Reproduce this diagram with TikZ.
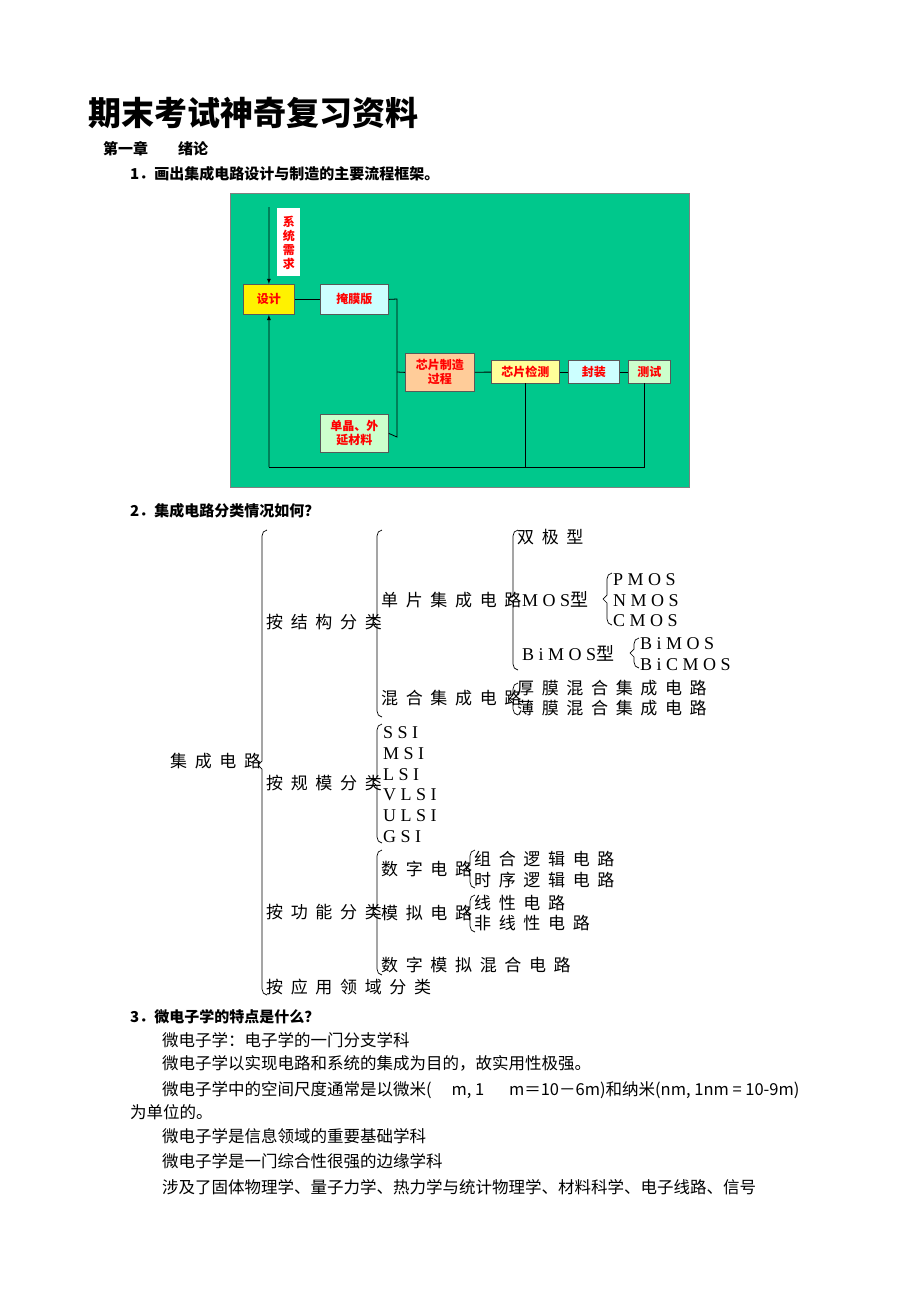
\documentclass[tikz,border=0pt]{standalone}
\usepackage{fontspec}
\setmainfont{Liberation Serif}
\newfontfamily\cjk{Noto Sans CJK SC}
\newfontfamily\tcjk[LetterSpace=45]{Noto Sans CJK SC}
\newfontfamily\tlat[LetterSpace=25]{Liberation Serif}
\definecolor{bg}{HTML}{00C88C}
\definecolor{cyanb}{HTML}{CCFFFF}
\definecolor{peach}{HTML}{FFCC99}
\definecolor{lyel}{HTML}{FFFF99}
\definecolor{lgrn}{HTML}{CCFFCC}
\newcommand\brc[4]{\draw[line width=0.7pt] (#1+5,#2) to[out=180,in=90] (#1,#2+6) -- (#1,#4-4) -- (#1-4,#4) -- (#1,#4+4) -- (#1,#3-6) to[out=-90,in=180] (#1+5,#3);}
\begin{document}
\begin{tikzpicture}[x=1pt,y=-1pt,
  fbox/.style={draw=gray!70!black,line width=0.8pt,font=\cjk\bfseries\fontsize{12}{14}\selectfont,text=red,inner sep=0pt,align=center,anchor=north west},
  tt/.style={anchor=base west,inner sep=0pt,font=\tcjk\fontsize{17}{17}\selectfont},
  tl/.style={anchor=base west,inner sep=0pt,font=\tlat\fontsize{18}{18}\selectfont},
  bt/.style={anchor=base west,inner sep=0pt,font=\cjk\fontsize{16.5}{18}\selectfont},
  hd/.style={anchor=base west,inner sep=0pt,font=\cjk\bfseries\fontsize{15}{18}\selectfont},
  ln/.style={line width=0.8pt}]
\useasboundingbox[fill=white] (0,0) rectangle (920,1302);
\node[anchor=base west,inner sep=0pt,font=\cjk\bfseries\fontsize{33}{36}\selectfont] (title) at (88,125) {期末考试神奇复习资料};
\node[hd] (ch1) at (103,154) {第一章\hspace{2em}绪论};
\node[hd] (q1) at (130,179) {1．画出集成电路设计与制造的主要流程框架。};
% flowchart
\node[draw=gray,fill=bg,minimum width=459pt,minimum height=294pt,anchor=north west,inner sep=0pt] (panel) at (230,193) {};
\node[fbox,fill=white,draw=none,minimum width=23pt,minimum height=68pt] (req) at (277,208) {系\\统\\需\\求};
\node[fbox,fill=yellow,minimum width=51pt,minimum height=30pt] (des) at (243,284) {设计};
\node[fbox,fill=cyanb,minimum width=68pt,minimum height=30pt] (mask) at (320,284) {掩膜版};
\node[fbox,fill=peach,minimum width=69pt,minimum height=38pt] (chip) at (405,353) {芯片制造\\过程};
\node[fbox,fill=lyel,minimum width=68pt,minimum height=23pt] (chk) at (491,360) {芯片检测};
\node[fbox,fill=cyanb,minimum width=51pt,minimum height=23pt] (pkg) at (568,360) {封装};
\node[fbox,fill=lgrn,minimum width=42pt,minimum height=23pt] (tst) at (628,360) {测试};
\node[fbox,fill=lgrn,minimum width=68pt,minimum height=38pt] (mat) at (320,414) {单晶、外\\延材料};
\coordinate (top) at (269,207);
\coordinate (bl) at (269,467);
\coordinate (bm) at (525,467);
\coordinate (br) at (644,467);
\coordinate (j1) at (397,299);
\coordinate (j2) at (397,437);
\draw[ln,-latex] (top) -- (des.north);
\draw[ln] (des) -- (mask);
\draw[ln] (mask.east) -- (j1) -- (j2) -- (mat.east);
\draw[ln] (397,372) -- (chip.west);
\draw[ln] (chip) -- (chk);
\draw[ln] (chk) -- (pkg);
\draw[ln] (pkg) -- (tst);
\draw[ln,-latex] (bl) -- (des.south);
\draw[ln] (bl) -- (br) -- (644,383);
\draw[ln] (bm) -- (525,383);
% tree
\node[hd] (q2) at (130,516) {2．集成电路分类情况如何？};
\brc{262}{530}{995}{765}
\node[tt] (ic) at (170,767) {集成电路};
\node[tt] (s1) at (266,628) {按结构分类};
\brc{377}{530}{717}{621}
\node[tt] (s11) at (381,606) {单片集成电路};
\node[tt] (s12) at (381,704) {混合集成电路};
\brc{513}{530}{670}{599}
\node[tt] (bj) at (517,543) {双极型};
\node[tl] (mos) at (522,606) {MOS\tcjk 型};
\brc{607}{573}{625}{599}
\node[tl] (pm) at (613,585) {PMOS};
\node[tl] (nm) at (613,606) {NMOS};
\node[tl] (cm) at (613,626) {CMOS};
\node[tl] (bim) at (522,660) {BiMOS\tcjk 型};
\brc{634}{638}{668}{653}
\node[tl] (b1) at (640,649) {BiMOS};
\node[tl] (b2) at (640,670) {BiCMOS};
\brc{513}{683}{715}{699}
\node[tt] (h1) at (517,694) {厚膜混合集成电路};
\node[tt] (h2) at (517,714) {薄膜混合集成电路};
\brc{377}{724}{843}{782}
\node[tl] (ssi) at (383,738) {SSI};
\node[tl] (msi) at (383,759) {MSI};
\node[tl] (lsi) at (383,780) {LSI};
\node[tl] (vlsi) at (383,800) {VLSI};
\node[tl] (ulsi) at (383,821) {ULSI};
\node[tl] (gsi) at (383,842) {GSI};
\node[tt] (s2) at (266,789) {按规模分类};
\brc{377}{850}{975}{911}
\node[tt] (d1) at (381,875) {数字电路};
\node[tt] (d2) at (381,919) {模拟电路};
\node[tt] (d3) at (381,971) {数字模拟混合电路};
\node[tt] (s3) at (266,918) {按功能分类};
\brc{470}{850}{888}{869}
\node[tt] (e1) at (474,865) {组合逻辑电路};
\node[tt] (e2) at (474,886) {时序逻辑电路};
\brc{470}{895}{932}{913}
\node[tt] (f1) at (474,909) {线性电路};
\node[tt] (f2) at (474,929) {非线性电路};
\node[tt] (s4) at (266,993) {按应用领域分类};
% text
\node[hd] (q3) at (130,1022) {3．微电子学的特点是什么？};
\node[bt] (l1) at (162,1046) {微电子学：电子学的一门分支学科};
\node[bt] (l2) at (162,1069) {微电子学以实现电路和系统的集成为目的，故实用性极强。};
\node[bt] (l3) at (162,1095) {微电子学中的空间尺度通常是以微米(\hspace{1.2em}m, 1\hspace{1.5em}m＝10－6m)和纳米(nm, 1nm = 10-9m)};
\node[bt] (l4) at (130,1118) {为单位的。};
\node[bt] (l5) at (162,1142) {微电子学是信息领域的重要基础学科};
\node[bt] (l6) at (162,1167) {微电子学是一门综合性很强的边缘学科};
\node[bt] (l7) at (162,1193) {涉及了固体物理学、量子力学、热力学与统计物理学、材料科学、电子线路、信号};
\end{tikzpicture}
\end{document}
